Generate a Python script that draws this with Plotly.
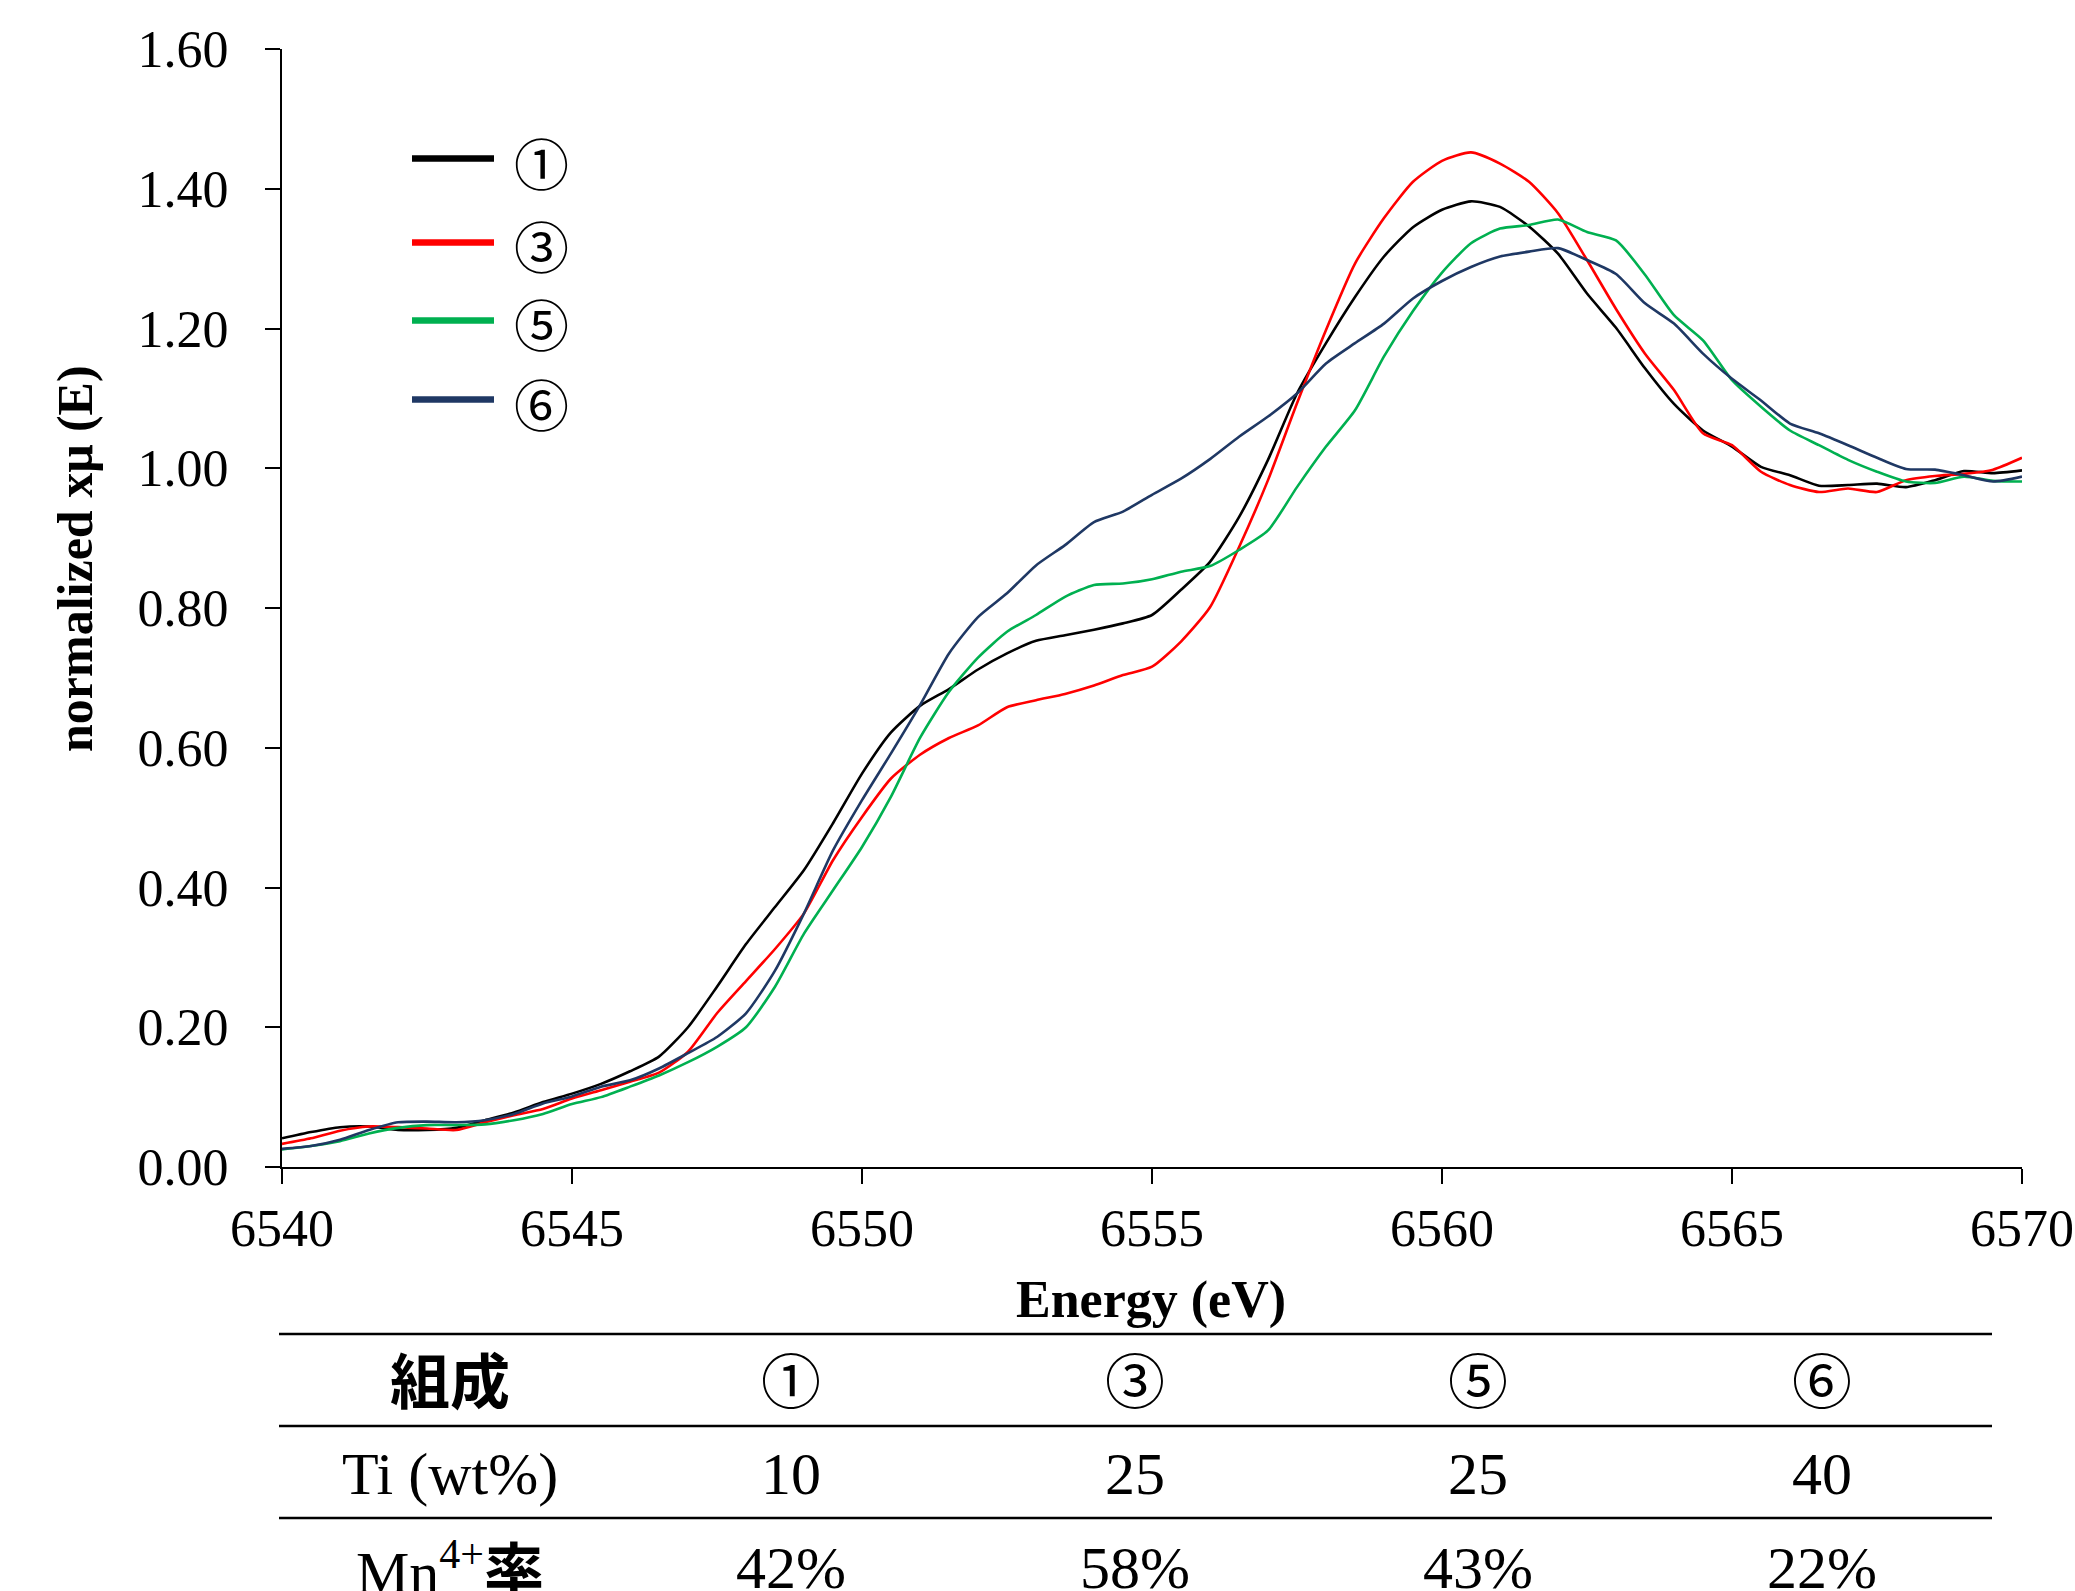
import plotly.graph_objects as go

# Mn K-edge XANES spectra (normalized absorption) for four compositions
energy = [6540.0, 6540.5, 6541.0, 6541.5, 6542.0, 6542.5, 6543.0, 6543.5, 6544.0, 6544.5,
          6545.0, 6545.5, 6546.0, 6546.5, 6547.0, 6547.5, 6548.0, 6548.5, 6549.0, 6549.5,
          6550.0, 6550.5, 6551.0, 6551.5, 6552.0, 6552.5, 6553.0, 6553.5, 6554.0, 6554.5,
          6555.0, 6555.5, 6556.0, 6556.5, 6557.0, 6557.5, 6558.0, 6558.5, 6559.0, 6559.5,
          6560.0, 6560.5, 6561.0, 6561.5, 6562.0, 6562.5, 6563.0, 6563.5, 6564.0, 6564.5,
          6565.0, 6565.5, 6566.0, 6566.5, 6567.0, 6567.5, 6568.0, 6568.5, 6569.0, 6569.5,
          6570.0]

mu_1 = [0.041, 0.050, 0.057, 0.058, 0.053, 0.053, 0.056, 0.067, 0.078, 0.093,
        0.105, 0.119, 0.137, 0.158, 0.200, 0.258, 0.319, 0.372, 0.425, 0.492,
        0.563, 0.622, 0.660, 0.684, 0.712, 0.735, 0.753, 0.761, 0.769, 0.778,
        0.790, 0.826, 0.866, 0.930, 1.012, 1.107, 1.179, 1.245, 1.303, 1.345,
        1.370, 1.382, 1.374, 1.346, 1.307, 1.250, 1.201, 1.143, 1.092, 1.054,
        1.031, 1.002, 0.990, 0.975, 0.976, 0.978, 0.973, 0.983, 0.996, 0.993,
        0.997]

mu_3 = [0.033, 0.041, 0.052, 0.058, 0.057, 0.055, 0.053, 0.064, 0.074, 0.083,
        0.098, 0.110, 0.122, 0.135, 0.165, 0.220, 0.266, 0.312, 0.363, 0.439,
        0.501, 0.556, 0.590, 0.614, 0.632, 0.658, 0.668, 0.677, 0.689, 0.704,
        0.716, 0.752, 0.801, 0.887, 0.983, 1.093, 1.198, 1.293, 1.358, 1.410,
        1.440, 1.452, 1.436, 1.410, 1.365, 1.298, 1.228, 1.164, 1.112, 1.050,
        1.033, 0.995, 0.976, 0.966, 0.971, 0.966, 0.983, 0.989, 0.992, 0.998,
        1.015]

mu_5 = [0.025, 0.030, 0.037, 0.048, 0.056, 0.060, 0.060, 0.061, 0.067, 0.076,
        0.090, 0.100, 0.115, 0.131, 0.150, 0.172, 0.200, 0.258, 0.334, 0.396,
        0.458, 0.530, 0.614, 0.680, 0.729, 0.766, 0.790, 0.816, 0.833, 0.835,
        0.841, 0.852, 0.860, 0.883, 0.911, 0.973, 1.031, 1.083, 1.160, 1.225,
        1.280, 1.322, 1.343, 1.348, 1.356, 1.338, 1.326, 1.277, 1.219, 1.183,
        1.126, 1.088, 1.054, 1.033, 1.012, 0.995, 0.981, 0.979, 0.988, 0.982,
        0.981]

mu_6 = [0.026, 0.030, 0.039, 0.053, 0.064, 0.065, 0.064, 0.067, 0.076, 0.091,
        0.101, 0.115, 0.124, 0.141, 0.163, 0.186, 0.220, 0.281, 0.363, 0.453,
        0.525, 0.592, 0.661, 0.735, 0.787, 0.821, 0.861, 0.890, 0.923, 0.938,
        0.962, 0.985, 1.013, 1.045, 1.074, 1.107, 1.150, 1.179, 1.207, 1.243,
        1.268, 1.288, 1.303, 1.310, 1.315, 1.298, 1.278, 1.236, 1.207, 1.164,
        1.128, 1.097, 1.064, 1.050, 1.033, 1.015, 0.999, 0.998, 0.990, 0.981,
        0.988]

series_names = ["①", "③", "⑤", "⑥"]
series_colors = ["#000000", "#FF0000", "#00B050", "#1F3864"]
series_values = [mu_1, mu_3, mu_5, mu_6]

# composition table below the plot
table_header = ["組成", "①", "③", "⑤", "⑥"]
ti_row = ["Ti (wt%)", "10", "25", "25", "40"]
mn_row = ["Mn<sup>4+</sup><b>率</b>", "42%", "58%", "43%", "22%"]

W, H = 2075, 1591
M_L, M_R, M_T, M_B = 282, 53, 49, 424
PW = W - M_L - M_R
PH = H - M_T - M_B


def px_x(px):
    return (px - M_L) / PW


def px_y(py):
    return (H - M_B - py) / PH


SERIF = "Liberation Serif, Times New Roman, serif"
CJK = "Noto Sans CJK JP"

fig = go.Figure()
for name, color, vals in zip(series_names, series_colors, series_values):
    fig.add_trace(go.Scatter(
        x=energy, y=vals, mode="lines", name=name,
        line=dict(color=color, width=2.6, shape="spline", smoothing=0.6),
        showlegend=False,
    ))

shapes = []
annotations = []

# legend block at upper left
legend_line_y = [158.5, 242.5, 320.5, 399.5]
for name, color, ly in zip(series_names, series_colors, legend_line_y):
    shapes.append(dict(type="line", xref="paper", yref="paper",
                       x0=px_x(412), x1=px_x(494), y0=px_y(ly), y1=px_y(ly),
                       line=dict(color=color, width=6.5)))
    annotations.append(dict(xref="paper", yref="paper", x=px_x(541), y=px_y(ly + 2),
                            text=name, showarrow=False, xanchor="center", yanchor="middle",
                            font=dict(family=CJK, size=55, color="#000000")))

# axis titles
annotations.append(dict(xref="paper", yref="paper", x=px_x(1151), y=px_y(1300),
                        text="<b>Energy (eV)</b>", showarrow=False,
                        xanchor="center", yanchor="middle",
                        font=dict(family=SERIF, size=52, color="#000000")))
annotations.append(dict(xref="paper", yref="paper", x=px_x(75), y=px_y(559),
                        text="<b>normalized xμ (E)</b>", showarrow=False, textangle=-90,
                        xanchor="center", yanchor="middle",
                        font=dict(family=SERIF, size=50, color="#000000")))

# table rules
table_x0, table_x1 = 279, 1992
for ry in [1334, 1426, 1518]:
    shapes.append(dict(type="line", xref="paper", yref="paper",
                       x0=px_x(table_x0), x1=px_x(table_x1), y0=px_y(ry), y1=px_y(ry),
                       line=dict(color="#000000", width=2.5)))

col_centers = [450, 791, 1135, 1478, 1822]
for row, ry in [(table_header, 1377), (ti_row, 1474), (mn_row, 1568)]:
    for i, (cell, cx) in enumerate(zip(row, col_centers)):
        if row is table_header and i == 0:
            txt = "<b>" + cell + "</b>"
            fam = CJK
        elif row is table_header:
            txt = cell
            fam = CJK
        else:
            txt = cell
            fam = SERIF + ", " + CJK
        annotations.append(dict(xref="paper", yref="paper", x=px_x(cx), y=px_y(ry),
                                text=txt, showarrow=False, xanchor="center", yanchor="middle",
                                font=dict(family=fam, size=60, color="#000000")))

fig.update_layout(
    width=W, height=H,
    margin=dict(l=M_L, r=M_R, t=M_T, b=M_B, pad=0, autoexpand=False),
    paper_bgcolor="white", plot_bgcolor="white",
    font=dict(family=SERIF, size=52, color="#000000"),
    shapes=shapes, annotations=annotations,
    xaxis=dict(
        range=[6540, 6570], dtick=5, tick0=6540,
        showline=True, linecolor="#000000", linewidth=2,
        ticks="outside", ticklen=15, tickwidth=2, tickcolor="#000000",
        showgrid=False, zeroline=False, automargin=False,
        tickfont=dict(family=SERIF, size=52),
    ),
    yaxis=dict(
        range=[0, 1.6], dtick=0.2, tick0=0, tickformat=".2f",
        showline=True, linecolor="#000000", linewidth=2,
        ticks="outside", ticklen=15, tickwidth=2, tickcolor="#000000",
        showgrid=False, zeroline=False, automargin=False,
        tickfont=dict(family=SERIF, size=52), ticklabelstandoff=26,
    ),
)

fig.write_html("out.html")
